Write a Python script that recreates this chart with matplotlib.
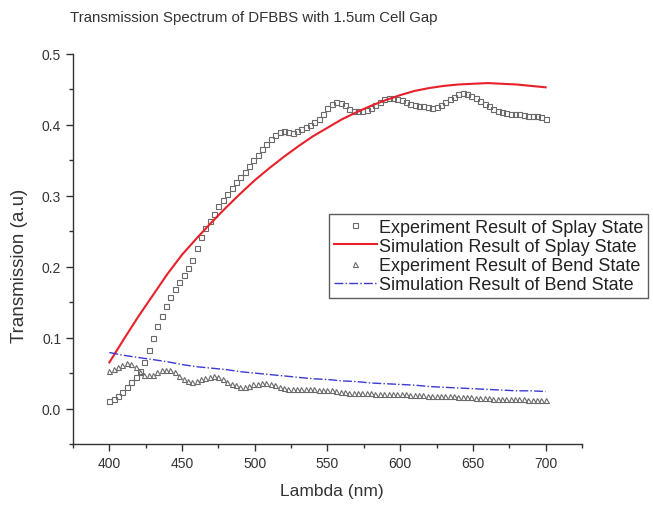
import numpy as np
import matplotlib
matplotlib.use('Agg')
import matplotlib.pyplot as plt
from matplotlib.ticker import MultipleLocator

# measured wavelengths (nm), one point every 3 nm
wl_exp = np.arange(400, 701, 3)

splay_exp = [
    0.010, 0.013, 0.018, 0.024, 0.031, 0.038, 0.045, 0.053, 0.065, 0.082,
    0.099, 0.116, 0.130, 0.145, 0.158, 0.169, 0.178, 0.188, 0.198, 0.210,
    0.227, 0.242, 0.254, 0.265, 0.275, 0.285, 0.294, 0.303, 0.311, 0.319,
    0.327, 0.334, 0.342, 0.350, 0.358, 0.366, 0.373, 0.380, 0.386, 0.390,
    0.391, 0.390, 0.389, 0.391, 0.394, 0.397, 0.400, 0.404, 0.409, 0.416,
    0.424, 0.430, 0.432, 0.431, 0.428, 0.423, 0.420, 0.419, 0.420, 0.421,
    0.424, 0.428, 0.433, 0.436, 0.438, 0.438, 0.437, 0.435, 0.432, 0.430,
    0.428, 0.427, 0.426, 0.425, 0.424, 0.425, 0.428, 0.432, 0.436, 0.440,
    0.443, 0.445, 0.444, 0.441, 0.438, 0.434, 0.430, 0.426, 0.422, 0.419,
    0.418, 0.417, 0.416, 0.416, 0.415, 0.414, 0.413, 0.413, 0.412, 0.411,
    0.409]

bend_exp = [
    0.053, 0.056, 0.059, 0.062, 0.064, 0.063, 0.058, 0.052, 0.048, 0.047,
    0.048, 0.051, 0.054, 0.055, 0.054, 0.051, 0.046, 0.042, 0.039, 0.038,
    0.039, 0.041, 0.043, 0.045, 0.046, 0.045, 0.042, 0.038, 0.035, 0.033,
    0.031, 0.031, 0.032, 0.034, 0.035, 0.036, 0.036, 0.035, 0.033, 0.031,
    0.029, 0.028, 0.027, 0.027, 0.027, 0.027, 0.027, 0.027, 0.026, 0.026,
    0.026, 0.026, 0.025, 0.024, 0.023, 0.022, 0.022, 0.022, 0.022, 0.022,
    0.022, 0.021, 0.021, 0.021, 0.021, 0.020, 0.020, 0.020, 0.020, 0.019,
    0.019, 0.019, 0.019, 0.018, 0.018, 0.018, 0.017, 0.017, 0.017, 0.017,
    0.016, 0.016, 0.016, 0.016, 0.015, 0.015, 0.015, 0.015, 0.014, 0.014,
    0.014, 0.014, 0.013, 0.013, 0.013, 0.013, 0.012, 0.012, 0.012, 0.012,
    0.012]

# simulated curves, every 10 nm
wl_sim = np.arange(400, 701, 10)
splay_sim = [0.065, 0.098, 0.130, 0.160, 0.190, 0.217, 0.240, 0.262, 0.283, 0.303,
             0.322, 0.339, 0.355, 0.370, 0.384, 0.396, 0.408, 0.418, 0.427, 0.435,
             0.442, 0.448, 0.452, 0.455, 0.457, 0.458, 0.459, 0.458, 0.457, 0.455,
             0.453]
bend_sim = [0.079, 0.075, 0.072, 0.069, 0.066, 0.062, 0.059, 0.057, 0.055, 0.052,
            0.050, 0.048, 0.046, 0.044, 0.042, 0.041, 0.039, 0.038, 0.036, 0.035,
            0.034, 0.033, 0.031, 0.030, 0.029, 0.028, 0.027, 0.026, 0.025, 0.025,
            0.024]


def main():
    plt.rcParams['font.family'] = ['Liberation Sans', 'DejaVu Sans']
    fig = plt.figure(figsize=(6.53, 5.06), dpi=100)
    ax = fig.add_axes([73 / 653, 1 - 445 / 506, 509 / 653, 390 / 506])

    grey = '#6a6a6a'
    ax.plot(wl_exp, splay_exp, 's', ms=3.6, mfc='none', mec=grey, mew=0.8,
            label='Experiment Result of Splay State')
    ax.plot(wl_sim, splay_sim, '-', color='#e8202a', lw=1.5,
            label='Simulation Result of Splay State')
    ax.plot(wl_exp, bend_exp, '^', ms=3.6, mfc='none', mec=grey, mew=0.8,
            label='Experiment Result of Bend State')
    ax.plot(wl_sim, bend_sim, '-.', color='#3a3ad0', lw=1.0,
            label='Simulation Result of Bend State')

    ax.set_xlim(375, 725)
    ax.set_ylim(-0.05, 0.5)
    ax.xaxis.set_major_locator(MultipleLocator(50))
    ax.xaxis.set_minor_locator(MultipleLocator(25))
    ax.yaxis.set_minor_locator(MultipleLocator(0.05))
    ax.set_yticks([0.0, 0.1, 0.2, 0.3, 0.4, 0.5])
    ax.yaxis.set_major_formatter(matplotlib.ticker.FormatStrFormatter('%.1f'))

    for s in ['top', 'right']:
        ax.spines[s].set_visible(False)
    for s in ['left', 'bottom']:
        ax.spines[s].set_color('#333333')
        ax.spines[s].set_linewidth(1.0)
    ax.tick_params(which='major', direction='out', length=5, width=1,
                   color='#333333', labelsize=10, labelcolor='#333333')
    ax.tick_params(which='minor', direction='out', length=3, width=1,
                   color='#333333')

    ax.set_xlabel('Lambda (nm)', fontsize=12.5, color='#333333')
    ax.xaxis.set_label_coords(0.509, -0.1)
    ax.set_ylabel('Transmission (a.u)', fontsize=13.5, color='#333333')
    ax.yaxis.set_label_coords(-0.088, 0.459)

    fig.text(254 / 653, 1 - 18 / 506, 'Transmission Spectrum of DFBBS with 1.5um Cell Gap',
             ha='center', va='center', fontsize=10.8, color='#333333')

    leg = ax.legend(loc='upper left', bbox_to_anchor=(329 / 653, 1 - 215 / 506),
                    bbox_transform=fig.transFigure, borderaxespad=0,
                    fontsize=13, frameon=True, fancybox=False, edgecolor='#333333',
                    handlelength=2.4, handletextpad=0.1, labelspacing=0.12,
                    borderpad=0.25)
    leg.get_frame().set_linewidth(1.0)
    for t in leg.get_texts():
        t.set_color('#222222')

    fig.savefig('out.png', dpi=100)


if __name__ == '__main__':
    main()
